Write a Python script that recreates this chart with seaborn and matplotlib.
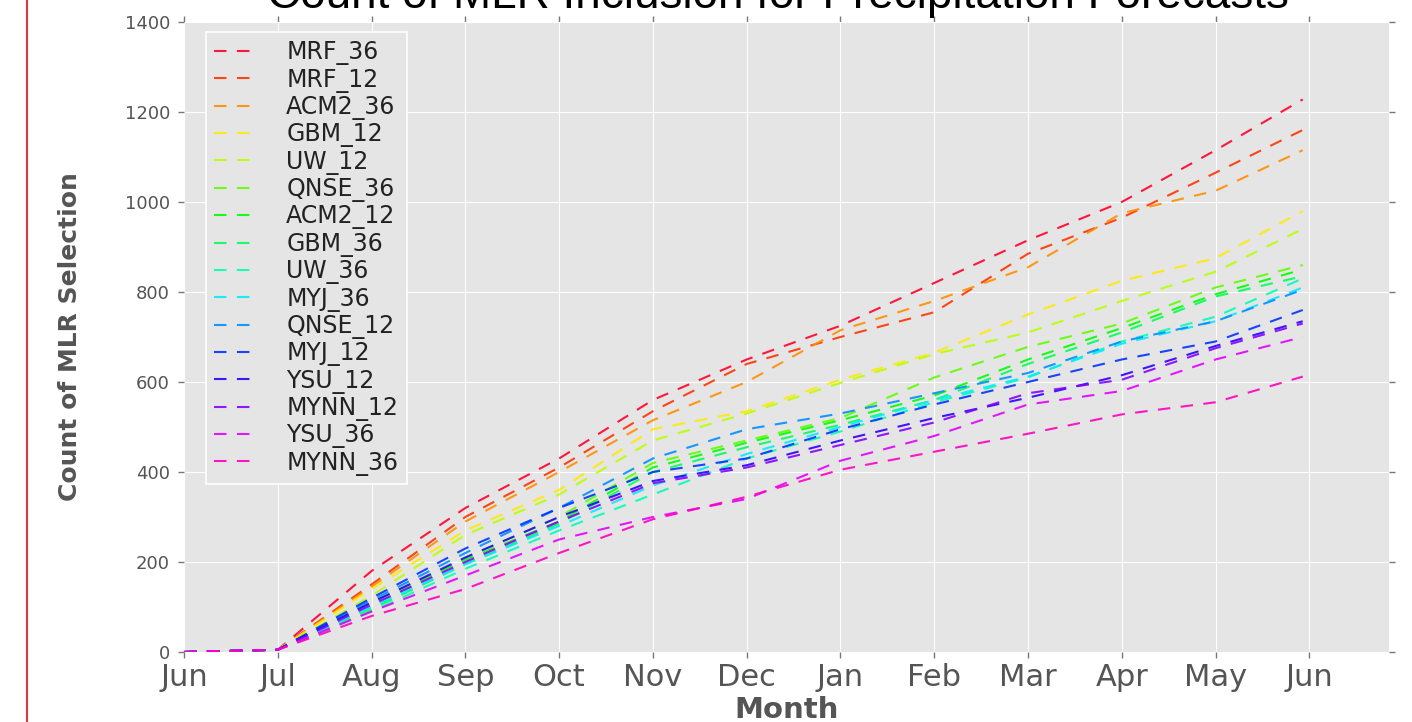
import numpy as np
import pandas as pd
import matplotlib
matplotlib.use("Agg")
import matplotlib.pyplot as plt
from matplotlib.lines import Line2D
import seaborn as sns

# ---------------- data ----------------
month_pos = [0, 1, 2, 3, 4, 5, 6, 7, 8, 9, 10, 11, 11.93]
tick_pos = [0, 1, 2, 3, 4, 5, 6, 7, 8, 9, 10, 11, 12]
tick_labels = ["Jun", "Jul", "Aug", "Sep", "Oct", "Nov", "Dec",
               "Jan", "Feb", "Mar", "Apr", "May", "Jun"]
y_ticks = [0, 200, 400, 600, 800, 1000, 1200, 1400]

names = ["MRF_36", "MRF_12", "ACM2_36", "GBM_12", "UW_12", "QNSE_36",
         "ACM2_12", "GBM_36", "UW_36", "MYJ_36", "QNSE_12", "MYJ_12",
         "YSU_12", "MYNN_12", "YSU_36", "MYNN_36"]

MRF_36  = [0, 5, 180, 320, 430, 560, 650, 725, 820, 915, 1000, 1115, 1228]
MRF_12  = [0, 5, 150, 300, 410, 535, 640, 700, 755, 885, 965, 1065, 1160]
ACM2_36 = [0, 5, 145, 290, 400, 515, 600, 715, 780, 855, 975, 1025, 1115]
GBM_12  = [0, 5, 140, 270, 360, 495, 535, 605, 665, 750, 825, 875, 980]
UW_12   = [0, 5, 125, 260, 350, 470, 530, 598, 662, 710, 780, 845, 940]
QNSE_36 = [0, 5, 100, 210, 300, 420, 470, 520, 610, 678, 730, 810, 860]
ACM2_12 = [0, 5, 110, 205, 290, 410, 465, 515, 570, 650, 720, 795, 850]
GBM_36  = [0, 5, 95, 195, 285, 400, 455, 505, 560, 640, 710, 790, 835]
UW_36   = [0, 5, 90, 185, 270, 350, 430, 490, 555, 610, 690, 745, 830]
MYJ_36  = [0, 5, 100, 195, 280, 370, 440, 500, 560, 612, 685, 735, 810]
QNSE_12 = [0, 5, 115, 220, 320, 430, 495, 530, 575, 620, 690, 735, 805]
MYJ_12  = [0, 5, 120, 230, 320, 400, 430, 495, 550, 600, 650, 690, 760]
YSU_12  = [0, 5, 110, 210, 300, 380, 415, 470, 520, 565, 615, 680, 735]
MYNN_12 = [0, 5, 105, 200, 290, 375, 410, 460, 510, 575, 605, 675, 730]
YSU_36  = [0, 5, 90, 170, 250, 300, 340, 425, 480, 550, 580, 650, 700]
MYNN_36 = [0, 5, 80, 140, 220, 295, 345, 405, 445, 485, 528, 555, 612]

series = [MRF_36, MRF_12, ACM2_36, GBM_12, UW_12, QNSE_36, ACM2_12, GBM_36,
          UW_36, MYJ_36, QNSE_12, MYJ_12, YSU_12, MYNN_12, YSU_36, MYNN_36]

rows = []
for name, vals in zip(names, series):
    for x, v in zip(month_pos, vals):
        rows.append({"month": x, "count": v, "model": name})
df = pd.DataFrame(rows)

# ---------------- style ----------------
sns.set_style("darkgrid", rc={"axes.facecolor": "#E5E5E5",
                              "grid.color": "white",
                              "grid.linewidth": 1.2})
plt.rcParams["font.family"] = ["DejaVu Sans"]

cmap = plt.get_cmap("gist_rainbow")
colors = [cmap(i / (len(names) - 1)) for i in range(len(names))]

fig = plt.figure(figsize=(14.12, 7.22), dpi=100)
ax = fig.add_axes([184 / 1412, 70 / 722, 1205 / 1412, 630 / 722])

sns.lineplot(data=df, x="month", y="count", hue="model", hue_order=names,
             palette=colors, linewidth=1.5, legend=False, ax=ax,
             errorbar=None, sort=False)
for ln in ax.lines:
    ln.set_dashes((6, 5))
    ln.set_alpha(0.9)

ax.set_xlim(0, 12.85)
ax.set_ylim(0, 1400)
ax.set_xticks(tick_pos)
ax.set_xticklabels(tick_labels)
ax.set_yticks(y_ticks)
for s in ax.spines.values():
    s.set_visible(False)

ax.tick_params(axis="both", which="major", direction="out", length=4,
               width=1, color="#777777", labelcolor="#555555",
               bottom=True, left=True, top=True, right=True,
               labeltop=False, labelright=False)
ax.tick_params(axis="x", labelsize=22, pad=4)
ax.tick_params(axis="y", labelsize=13, pad=6)

ax.set_xlabel("Month", fontsize=21, fontweight="bold", color="#555555")
ax.xaxis.set_label_coords(0.5, -0.07)
ax.xaxis.label.set_va("top")
ax.set_ylabel("Count of MLR Selection", fontsize=18, fontweight="bold",
              color="#555555")
ax.yaxis.set_label_coords(-0.085, 0.5)

leg = ax.legend(ax.lines[:len(names)], names, loc="upper left",
                bbox_to_anchor=(22 / 1205, 1 - 10 / 630), borderaxespad=0,
                prop={"size": 17}, handlelength=1.8, handletextpad=1.25,
                labelspacing=0.1, borderpad=0.35, frameon=True,
                fancybox=False, facecolor="#E5E5E5", edgecolor="white",
                framealpha=1)
leg.get_frame().set_linewidth(1.2)
for t in leg.get_texts():
    t.set_color("#222222")

fig.text(778 / 1412, 1 - 8 / 722,
         "Count of MLR Inclusion for Precipitation Forecasts",
         ha="center", va="baseline", fontsize=33,
         family=["Liberation Sans", "DejaVu Sans"], color="black")

fig.add_artist(Line2D([27 / 1412, 27 / 1412], [0, 1], color="#dc3545",
                      lw=1.5, transform=fig.transFigure))

fig.savefig("out.png", dpi=100)
